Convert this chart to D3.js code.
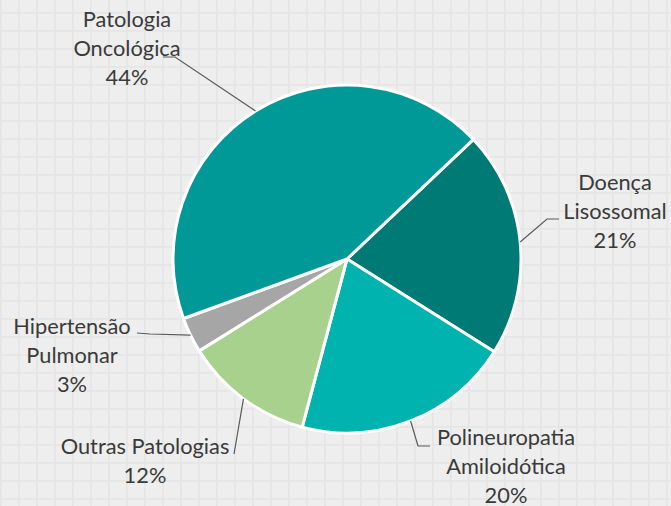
<!DOCTYPE html>
<html>
<head>
<meta charset="utf-8">
<script src="https://cdn.jsdelivr.net/npm/d3@7"></script>
<style>
  html, body { margin: 0; padding: 0; background: #eeeeee; }
  svg { display: block; }
</style>
</head>
<body>
<svg id="chart" width="671" height="506"></svg>
<script>
// data
const categories = [
  "Doença Lisossomal",
  "Polineuropatia Amiloidótica",
  "Outras Patologias",
  "Hipertensão Pulmonar",
  "Patologia Oncológica",
];
const shares = [21.0, 20.2, 12.0, 3.3, 43.5];
const labelLines = [
  ["Doença", "Lisossomal"],
  ["Polineuropatia", "Amiloidótica"],
  ["Outras Patologias"],
  ["Hipertensão", "Pulmonar"],
  ["Patologia", "Oncológica"],
];
const sliceColors = ["#007a74", "#00b3ae", "#a9d18e", "#a6a6a6", "#009997"];

// label placement (text centre x, first baseline y, leader elbow + end)
const labelLayout = [
  { x: 615, y: 190, elbow: [547, 219], end: [559, 219] },
  { x: 506, y: 445, elbow: [418, 446], end: [430, 446] },
  { x: 145, y: 454, elbow: null, end: [234, 454] },
  { x: 72, y: 334, elbow: [150, 334], end: [137, 333] },
  { x: 127, y: 27, elbow: [175, 57], end: [163, 57] },
];

const svg = d3.select("#chart");
const width = +svg.attr("width");
const height = +svg.attr("height");
const cx = 347;
const cy = 259;
const radius = 174;
const lineHeight = 29;

// background grid
const defs = svg.append("defs");
const pat = defs
  .append("pattern")
  .attr("id", "grid")
  .attr("patternUnits", "userSpaceOnUse")
  .attr("width", 18)
  .attr("height", 18)
  .attr("y", 12);
pat.append("rect").attr("width", 18).attr("height", 18).attr("fill", "#eeeeee");
pat.append("rect").attr("width", 1.6).attr("height", 18).attr("fill", "#e5e5e5");
pat.append("rect").attr("width", 18).attr("height", 1.6).attr("fill", "#e5e5e5");

svg.append("rect").attr("width", width).attr("height", height).attr("fill", "url(#grid)");

const startAngle = (46.6 * Math.PI) / 180;
const pie = d3
  .pie()
  .sort(null)
  .startAngle(startAngle)
  .endAngle(startAngle + 2 * Math.PI)
  .value((d) => d);

const arcs = pie(shares);
const arc = d3.arc().innerRadius(0).outerRadius(radius);

const g = svg.append("g").attr("transform", `translate(${cx}, ${cy})`);

g.selectAll("path")
  .data(arcs)
  .join("path")
  .attr("d", arc)
  .attr("fill", (d, i) => sliceColors[i])
  .attr("stroke", "#ffffff")
  .attr("stroke-width", 3)
  .attr("stroke-linejoin", "round");

// leader lines from slice edge at mid angle
const edgePoint = (d) => {
  const a = (d.startAngle + d.endAngle) / 2;
  return [cx + radius * Math.sin(a), cy - radius * Math.cos(a)];
};

svg
  .append("g")
  .selectAll("path")
  .data(arcs)
  .join("path")
  .attr("fill", "none")
  .attr("stroke", "#595959")
  .attr("stroke-width", 1.2)
  .attr("d", (d, i) => {
    const lay = labelLayout[i];
    const pts = [edgePoint(d)];
    if (lay.elbow) pts.push(lay.elbow);
    pts.push(lay.end);
    return d3.line()(pts);
  });

// labels
const labels = svg
  .append("g")
  .attr("font-family", "Lato, 'Open Sans', sans-serif")
  .attr("font-size", 21.8)
  .attr("fill", "#3a3a3a")
  .attr("text-anchor", "middle")
  .selectAll("text")
  .data(arcs)
  .join("text")
  .attr("x", (d, i) => labelLayout[i].x)
  .attr("y", (d, i) => labelLayout[i].y);

labels
  .selectAll("tspan")
  .data((d, i) => [...labelLines[i], `${Math.round(shares[i])}%`])
  .join("tspan")
  .attr("x", function () {
    return d3.select(this.parentNode).attr("x");
  })
  .attr("dy", (d, j) => (j === 0 ? 0 : lineHeight))
  .text((d) => d);
</script>
</body>
</html>
